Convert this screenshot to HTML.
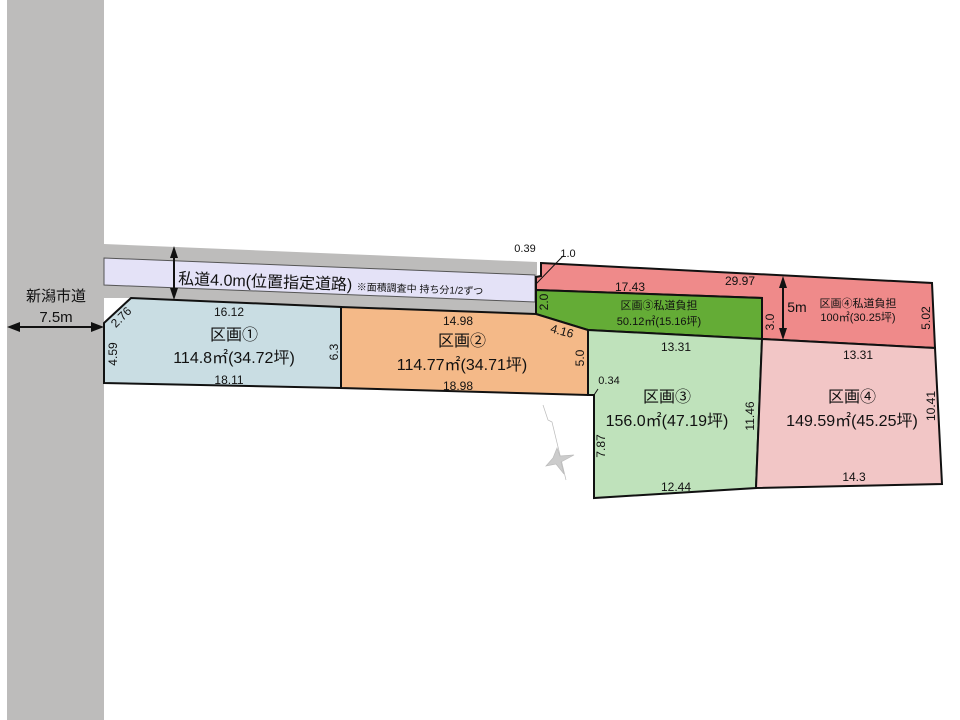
<!DOCTYPE html>
<html><head><meta charset="utf-8"><style>
html,body{margin:0;padding:0;background:#fff}
svg{display:block}
text{font-family:"Liberation Sans","Noto Sans CJK JP",sans-serif;fill:#111}
</style></head><body>
<svg width="960" height="720" viewBox="0 0 960 720" xmlns="http://www.w3.org/2000/svg">
<rect x="7" y="0" width="97" height="720" fill="#bdbcbb"/>
<polygon points="104,244 537,262 537,314 131,298 104,298" fill="#bdbcbb"/>
<polygon points="104,258 535,275 535,302 104,285" fill="#e4e2f7" stroke="#555" stroke-width="1"/>
<!-- red -->
<polygon points="541,263 932,283 935,348 762,339 762,298 536,290 536,277 541,276" fill="#ef8a8a" stroke="#111" stroke-width="2"/>
<line x1="536" y1="284" x2="563" y2="256" stroke="#111" stroke-width="1"/>
<!-- green -->
<polygon points="536,290 762,298 762,339 588,330 536,314" fill="#64ac36" stroke="#111" stroke-width="2"/>
<!-- lot1 -->
<polygon points="104,323 131,298 341,307 341,388 104,383" fill="#c9dde3" stroke="#111" stroke-width="2"/>
<!-- lot2 -->
<polygon points="341,307 536,314 588,330 588,395 341,388" fill="#f4b988" stroke="#111" stroke-width="2"/>
<!-- lot3 -->
<polygon points="588,330 762,339 756,488 594,498 594,395 588,395" fill="#bfe2bb" stroke="#111" stroke-width="2"/>
<line x1="594" y1="395" x2="598" y2="389" stroke="#111" stroke-width="1"/>
<!-- lot4 -->
<polygon points="762,339 935,348 942,484 756,488" fill="#f2c6c6" stroke="#111" stroke-width="2"/>
<!-- arrows -->
<g stroke="#111" stroke-width="2" fill="#111">
<line x1="12" y1="327" x2="100" y2="327"/>
<polygon points="7,327 20,322 20,332" stroke="none"/>
<polygon points="104,327 91,322 91,332" stroke="none"/>
<line x1="174" y1="252" x2="174" y2="296"/>
<polygon points="174,246 170,258 178,258" stroke="none"/>
<polygon points="174,300 170,288 178,288" stroke="none"/>
<line x1="783" y1="282" x2="783" y2="334"/>
<polygon points="783,276 779,288 787,288" stroke="none"/>
<polygon points="783,340 779,328 787,328" stroke="none"/>
</g>
<!-- compass -->
<g fill="#ccc" stroke="#bbb" stroke-width="0.7">
<polyline points="543,405 548,420 552,422 566,480" fill="none"/>
<polygon points="557,448 560,456 574,455 561,462 564,474 556,464 546,466 553,458"/>
</g>
<text x="56" y="301" font-size="15" text-anchor="middle">新潟市道</text>
<text x="56" y="322" font-size="15" text-anchor="middle">7.5m</text>
<text x="178" y="284" font-size="16" transform="rotate(2 178 284)">私道4.0m(位置指定道路) <tspan font-size="10">※面積調査中 持ち分1/2ずつ</tspan></text>
<text x="525" y="252" font-size="11" text-anchor="middle">0.39</text>
<text x="568" y="257" font-size="11" text-anchor="middle">1.0</text>
<text x="229" y="316" font-size="12" text-anchor="middle">16.12</text>
<text x="234" y="340" font-size="16" text-anchor="middle">区画①</text>
<text x="234" y="363" font-size="16" text-anchor="middle">114.8㎡(34.72坪)</text>
<text x="229" y="384" font-size="12" text-anchor="middle">18.11</text>
<text x="124" y="320" font-size="12" text-anchor="middle" transform="rotate(-45 124 320)">2.76</text>
<text x="117" y="354" font-size="12" text-anchor="middle" transform="rotate(-90 117 354)">4.59</text>
<text x="338" y="352" font-size="12" text-anchor="middle" transform="rotate(-90 338 352)">6.3</text>
<text x="458" y="325" font-size="12" text-anchor="middle">14.98</text>
<text x="462" y="346" font-size="16" text-anchor="middle">区画②</text>
<text x="462" y="370" font-size="16" text-anchor="middle">114.77㎡(34.71坪)</text>
<text x="458" y="390" font-size="12" text-anchor="middle">18.98</text>
<text x="561" y="335" font-size="12" text-anchor="middle" transform="rotate(15 561 335)">4.16</text>
<text x="584" y="358" font-size="12" text-anchor="middle" transform="rotate(-90 584 358)">5.0</text>
<text x="548" y="302" font-size="12" text-anchor="middle" transform="rotate(-90 548 302)">2.0</text>
<text x="630" y="291" font-size="12" text-anchor="middle">17.43</text>
<text x="740" y="285" font-size="12" text-anchor="middle">29.97</text>
<text x="659" y="309" font-size="11" text-anchor="middle">区画③私道負担</text>
<text x="659" y="325" font-size="11" text-anchor="middle">50.12㎡(15.16坪)</text>
<text x="774" y="322" font-size="12" text-anchor="middle" transform="rotate(-90 774 322)">3.0</text>
<text x="797" y="312" font-size="14" text-anchor="middle">5m</text>
<text x="858" y="307" font-size="11" text-anchor="middle">区画④私道負担</text>
<text x="858" y="321" font-size="11" text-anchor="middle">100㎡(30.25坪)</text>
<text x="930" y="318" font-size="12" text-anchor="middle" transform="rotate(-90 930 318)">5.02</text>
<text x="676" y="351" font-size="12" text-anchor="middle">13.31</text>
<text x="858" y="359" font-size="12" text-anchor="middle">13.31</text>
<text x="609" y="384" font-size="11" text-anchor="middle">0.34</text>
<text x="667" y="402" font-size="16" text-anchor="middle">区画③</text>
<text x="667" y="426" font-size="16" text-anchor="middle">156.0㎡(47.19坪)</text>
<text x="754" y="416" font-size="12" text-anchor="middle" transform="rotate(-90 754 416)">11.46</text>
<text x="605" y="446" font-size="12" text-anchor="middle" transform="rotate(-90 605 446)">7.87</text>
<text x="676" y="491" font-size="12" text-anchor="middle">12.44</text>
<text x="852" y="402" font-size="16" text-anchor="middle">区画④</text>
<text x="852" y="426" font-size="16" text-anchor="middle">149.59㎡(45.25坪)</text>
<text x="935" y="406" font-size="12" text-anchor="middle" transform="rotate(-90 935 406)">10.41</text>
<text x="854" y="481" font-size="12" text-anchor="middle">14.3</text>
</svg>
</body></html>
